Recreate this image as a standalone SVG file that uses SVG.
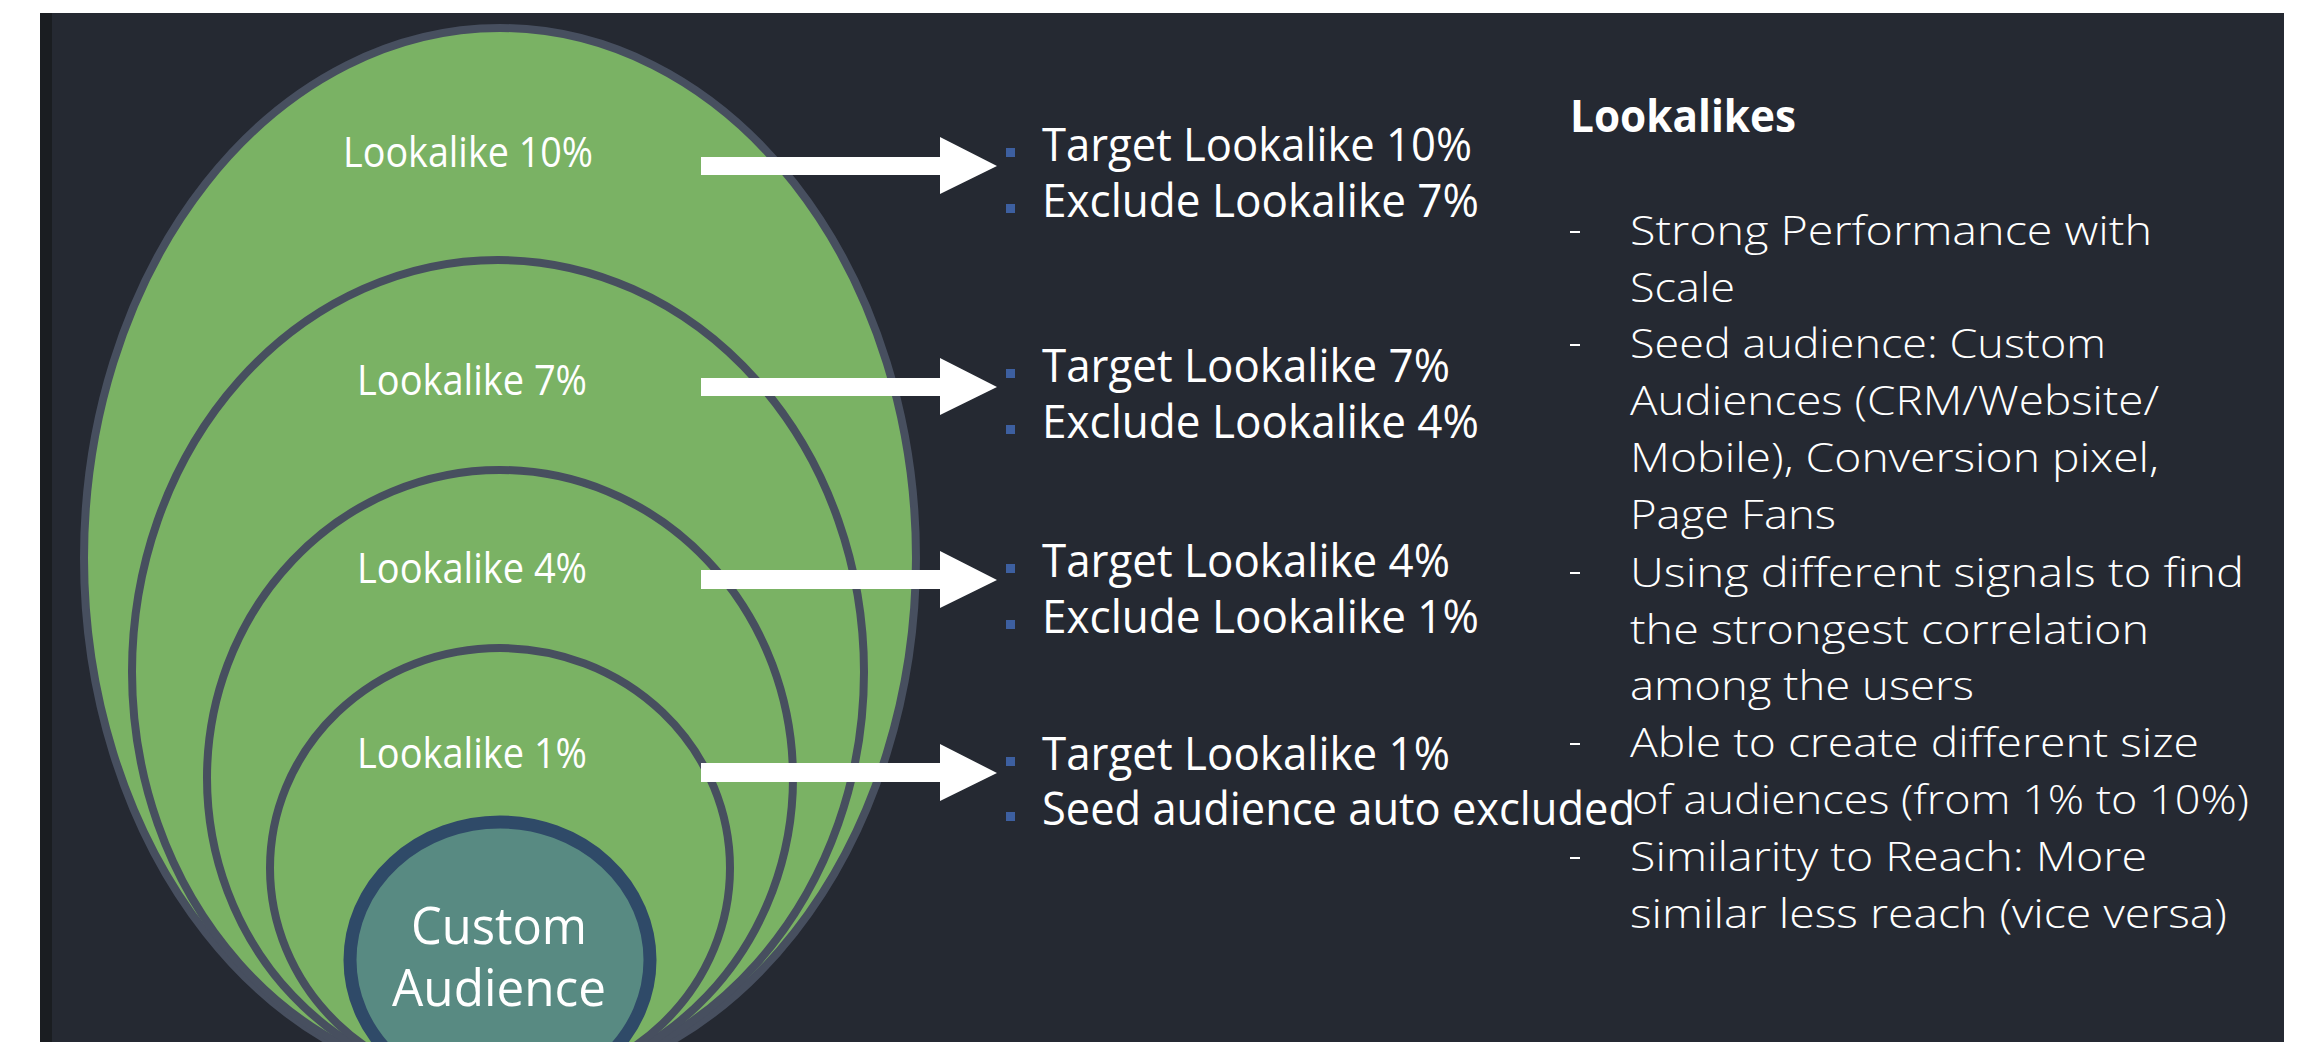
<svg xmlns="http://www.w3.org/2000/svg" width="2306" height="1042" viewBox="0 0 2306 1042">
<style>
.ring{fill:#7ab264;stroke:#474f5f;stroke-width:8}
.lbl{font-family:"Open Sans","Noto Sans",sans-serif;fill:#ffffff;font-size:42px;text-anchor:middle}
.big{font-family:"Open Sans","Noto Sans",sans-serif;fill:#ffffff;font-size:52px;text-anchor:middle}
.item{font-family:"Open Sans","Noto Sans",sans-serif;fill:#ffffff;font-size:46px;font-weight:500}
.note{font-family:"Open Sans","Noto Sans",sans-serif;fill:#ffffff;font-size:40px;font-weight:300}
.head{font-family:"Open Sans","Noto Sans",sans-serif;fill:#ffffff;font-size:44px;font-weight:700}
.sq{fill:#3d5fa0}
.dash{fill:#ffffff}
.arrow{fill:#ffffff}
</style>
<rect x="0" y="0" width="2306" height="1042" fill="#ffffff"/>
<rect x="40" y="13" width="2244" height="1029" fill="#252932"/>
<rect x="40" y="13" width="12" height="1029" fill="#1a1d21"/>

<g id="lookalike-10">
<ellipse class="ring" cx="500" cy="558" rx="416" ry="530"/>
<text class="lbl" x="468" y="167" textLength="250" lengthAdjust="spacingAndGlyphs">Lookalike 10%</text>
</g>
<g id="lookalike-7">
<ellipse class="ring" cx="498" cy="672" rx="366" ry="412"/>
<text class="lbl" x="472" y="395" textLength="230" lengthAdjust="spacingAndGlyphs">Lookalike 7%</text>
</g>
<g id="lookalike-4">
<ellipse class="ring" cx="500" cy="778" rx="293" ry="308"/>
<text class="lbl" x="472" y="583" textLength="230" lengthAdjust="spacingAndGlyphs">Lookalike 4%</text>
</g>
<g id="lookalike-1">
<ellipse class="ring" cx="500" cy="868" rx="230" ry="220"/>
<text class="lbl" x="472" y="768" textLength="230" lengthAdjust="spacingAndGlyphs">Lookalike 1%</text>
</g>
<g id="custom-audience">
<ellipse cx="500" cy="960" rx="150" ry="138" fill="#588a82" stroke="#2f4a68" stroke-width="13"/>
<text class="big" x="499" y="944" textLength="176" lengthAdjust="spacingAndGlyphs">Custom</text>
<text class="big" x="499" y="1006" textLength="214" lengthAdjust="spacingAndGlyphs">Audience</text>
</g>

<g id="connectors">
<polygon class="arrow" points="701,157 940,157 940,137 997,166 940,194 940,175 701,175"/>
<polygon class="arrow" points="701,378 940,378 940,358 997,387 940,415 940,396 701,396"/>
<polygon class="arrow" points="701,570 940,570 940,551 997,580 940,608 940,589 701,589"/>
<polygon class="arrow" points="701,763 940,763 940,744 997,773 940,801 940,782 701,782"/>
</g>

<g id="list-10">
<rect class="sq" x="1006" y="148" width="9" height="9"/>
<text class="item" x="1042" y="161" textLength="430" lengthAdjust="spacingAndGlyphs">Target Lookalike 10%</text>
<rect class="sq" x="1006" y="204" width="9" height="9"/>
<text class="item" x="1042" y="217" textLength="437" lengthAdjust="spacingAndGlyphs">Exclude Lookalike 7%</text>
</g>
<g id="list-7">
<rect class="sq" x="1006" y="369" width="9" height="9"/>
<text class="item" x="1042" y="382" textLength="408" lengthAdjust="spacingAndGlyphs">Target Lookalike 7%</text>
<rect class="sq" x="1006" y="425" width="9" height="9"/>
<text class="item" x="1042" y="438" textLength="437" lengthAdjust="spacingAndGlyphs">Exclude Lookalike 4%</text>
</g>
<g id="list-4">
<rect class="sq" x="1006" y="564" width="9" height="9"/>
<text class="item" x="1042" y="577" textLength="408" lengthAdjust="spacingAndGlyphs">Target Lookalike 4%</text>
<rect class="sq" x="1006" y="620" width="9" height="9"/>
<text class="item" x="1042" y="633" textLength="437" lengthAdjust="spacingAndGlyphs">Exclude Lookalike 1%</text>
</g>
<g id="list-1">
<rect class="sq" x="1006" y="757" width="9" height="9"/>
<text class="item" x="1042" y="770" textLength="408" lengthAdjust="spacingAndGlyphs">Target Lookalike 1%</text>
<rect class="sq" x="1006" y="812" width="9" height="9"/>
<text class="item" x="1042" y="825" textLength="593" lengthAdjust="spacingAndGlyphs">Seed audience auto excluded</text>
</g>

<g id="lookalikes-notes">
<text class="head" x="1570" y="132" textLength="226" lengthAdjust="spacingAndGlyphs">Lookalikes</text>
<rect class="dash" x="1570" y="231" width="10" height="2"/>
<rect class="dash" x="1570" y="344" width="10" height="2"/>
<rect class="dash" x="1570" y="572" width="10" height="2"/>
<rect class="dash" x="1570" y="743" width="10" height="2"/>
<rect class="dash" x="1570" y="857" width="10" height="2"/>
<text class="note" x="1630" y="245" textLength="522" lengthAdjust="spacingAndGlyphs">Strong Performance with</text>
<text class="note" x="1630" y="302" textLength="105" lengthAdjust="spacingAndGlyphs">Scale</text>
<text class="note" x="1630" y="358" textLength="476" lengthAdjust="spacingAndGlyphs">Seed audience: Custom</text>
<text class="note" x="1630" y="415" textLength="529" lengthAdjust="spacingAndGlyphs">Audiences (CRM/Website/</text>
<text class="note" x="1630" y="472" textLength="529" lengthAdjust="spacingAndGlyphs">Mobile), Conversion pixel,</text>
<text class="note" x="1630" y="529" textLength="206" lengthAdjust="spacingAndGlyphs">Page Fans</text>
<text class="note" x="1630" y="587" textLength="614" lengthAdjust="spacingAndGlyphs">Using different signals to find</text>
<text class="note" x="1630" y="644" textLength="519" lengthAdjust="spacingAndGlyphs">the strongest correlation</text>
<text class="note" x="1630" y="700" textLength="344" lengthAdjust="spacingAndGlyphs">among the users</text>
<text class="note" x="1630" y="757" textLength="569" lengthAdjust="spacingAndGlyphs">Able to create different size</text>
<text class="note" x="1632" y="814" textLength="617" lengthAdjust="spacingAndGlyphs">of audiences (from 1% to 10%)</text>
<text class="note" x="1630" y="871" textLength="517" lengthAdjust="spacingAndGlyphs">Similarity to Reach: More</text>
<text class="note" x="1630" y="928" textLength="597" lengthAdjust="spacingAndGlyphs">similar less reach (vice versa)</text>
</g>
</svg>
